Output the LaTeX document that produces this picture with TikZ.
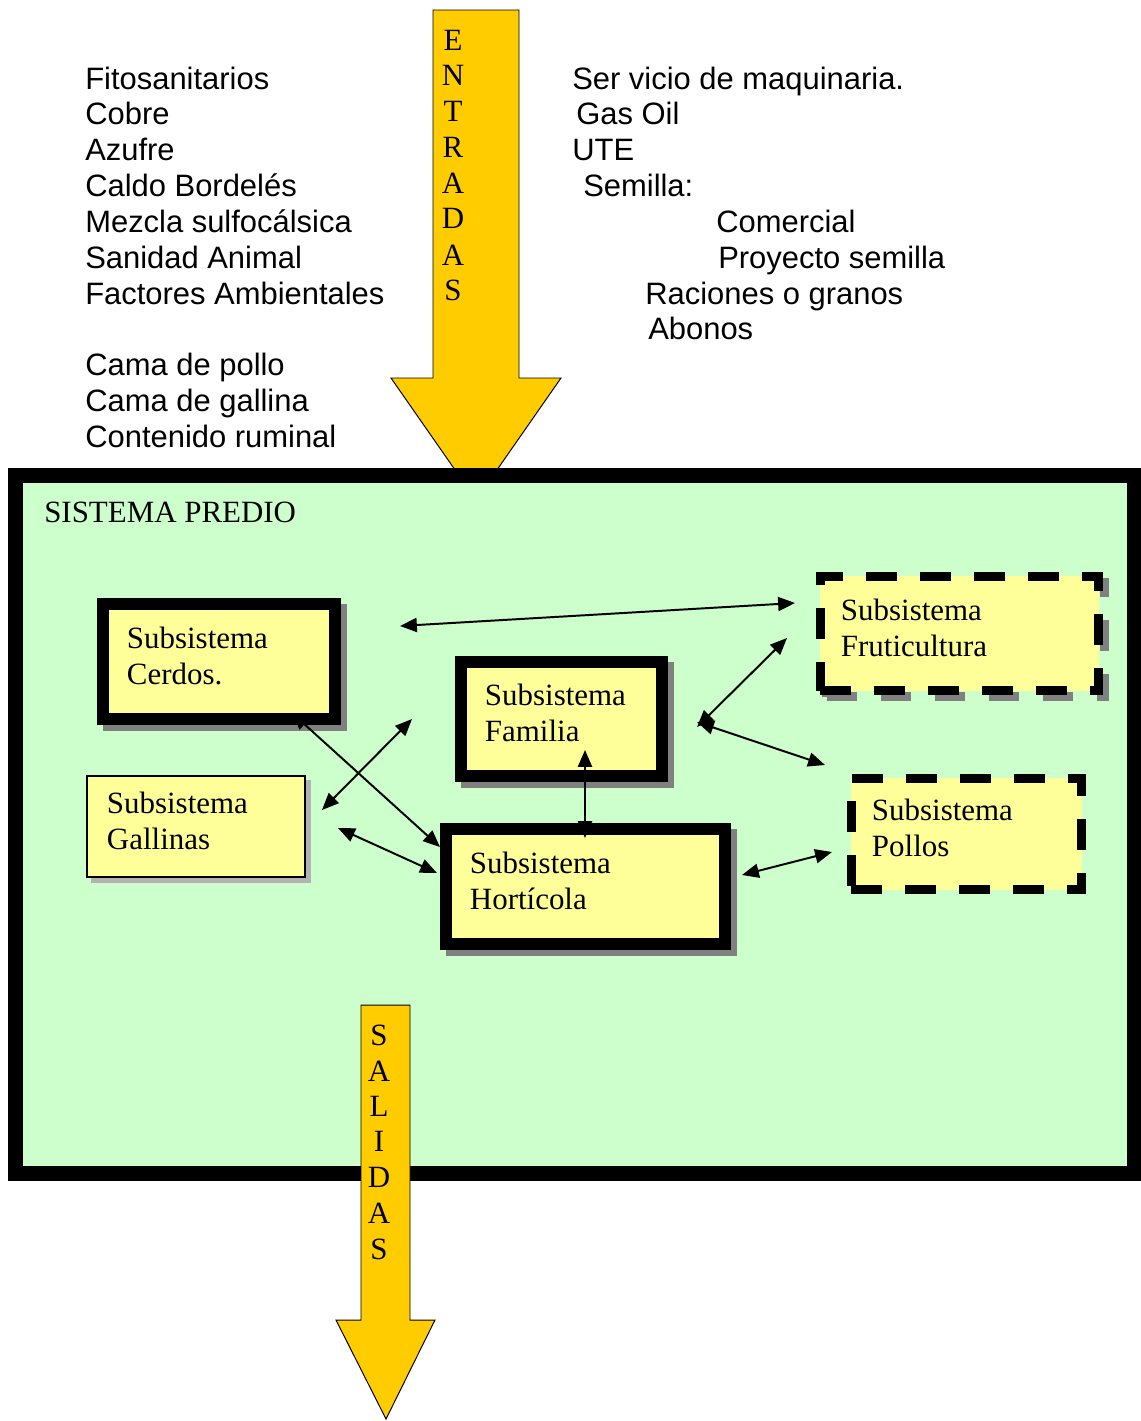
\documentclass[tikz,border=0pt]{standalone}
\usepackage{fontspec}
\setmainfont{Liberation Serif}
\setsansfont{Liberation Sans}
\usetikzlibrary{positioning,calc,arrows.meta}
\definecolor{verde}{HTML}{CCFFCC}
\definecolor{amarillo}{HTML}{FFFF99}
\definecolor{naranja}{HTML}{FFCC00}
\tikzset{grande/.style={font=\fontsize{22}{25.6}\selectfont},
  sub/.style={draw,fill=amarillo,grande,align=left,text depth=34pt},
  grueso/.style={line width=8.5pt,preaction={draw=black!50,fill=black!50,transform canvas={shift={(4.3pt,-4.3pt)}}}},
  rayado/.style={line width=6.4pt,dash pattern=on 22pt off 16.4pt},
  flecha/.style={draw,line width=0.7pt,fill=naranja},
  link/.style={line width=1.4pt,{Triangle[length=12pt,width=10pt]}-{Triangle[length=12pt,width=10pt]}},
  lista/.style={font=\sffamily\fontsize{22}{25.6}\selectfont,anchor=base west,inner sep=0pt},
  letra/.style={grande,anchor=base,inner sep=0pt}}
\begin{document}
\begin{tikzpicture}[x=0.025cm,y=-0.025cm]
  \useasboundingbox (0,0) rectangle (1141,1421);

  % entradas arrow (behind the system box)
  \draw[flecha] (433,10) -- (519,10) -- (519,378) -- (561,378) -- (476,500) -- (391,378) -- (433,378) -- cycle;
  \foreach \l/\y [count=\i] in {E/50,N/85,T/121,R/157,A/193,D/228,A/265,S/300}
    \node[letra] (ent-\i) at (453,\y) {\l};

  % inputs
  \foreach \t/\y [count=\i] in {Fitosanitarios/89, Cobre/124, Azufre/160, Caldo Bordelés/196, Mezcla sulfocálsica/232, Sanidad Animal/268, Factores Ambientales/304, Cama de pollo/375, Cama de gallina/411, Contenido ruminal/447}
    \node[lista] (izq-\i) at (85,\y) {\t};
  \foreach \x/\y/\t [count=\i] in {572/89/Ser vicio de maquinaria., 576/124/Gas Oil, 572/160/UTE, 583/196/Semilla:, 716/232/Comercial, 718/268/Proyecto semilla, 645/304/Raciones o granos, 648/339/Abonos}
    \node[lista] (der-\i) at (\x,\y) {\t};

  % system box
  \node (predio) [draw,line width=10.7pt,fill=verde,minimum width=27.9625cm,minimum height=17.4375cm,inner sep=0pt] at (575.25,824.25) {};
  \node (titulo) [grande,anchor=base west,inner sep=0pt] at (44,522) {SISTEMA PREDIO};

  % subsystems
  \node (cerdos) [sub,grueso,minimum height=2.875cm,inner xsep=0.6cm,text width=4.6cm] at (219,661.5) {Subsistema\\Cerdos.};
  \node (familia) [sub,grueso,minimum height=2.85cm,inner xsep=0.6cm,text width=3.825cm] at (561.5,719) {Subsistema\\Familia};
  \node (horticola) [sub,grueso,minimum height=2.875cm,inner xsep=0.6cm,text width=5.775cm] at (585.5,886.5) {Subsistema\\Hortícola};
  \node (gallinas) [sub,line width=1.4pt,preaction={draw=black!30,fill=black!30,transform canvas={shift={(3.5pt,-3.5pt)}}},minimum height=2.525cm,inner xsep=0.5cm,text width=4.45cm] at (196,826.5) {Subsistema\\Gallinas};
  \node (fruti) [sub,rayado,preaction={draw=black!50,fill=none,transform canvas={shift={(4.3pt,-4.3pt)}}},minimum height=2.85cm,inner xsep=0.5125cm,text width=5.925cm] at (959.5,633.5) {Subsistema\\Fruticultura};
  \node (pollos) [sub,rayado,minimum height=2.775cm,inner xsep=0.5125cm,text width=4.725cm] at (966.5,834) {Subsistema\\Pollos};

  % connector ends
  \coordinate (cer-fru-a) at (400,626); \coordinate (cer-fru-b) at (795,603);
  \coordinate (cer-hor-a) at (292,713); \coordinate (cer-hor-b) at (440,847);
  \coordinate (gal-fam-a) at (322,810); \coordinate (gal-fam-b) at (412,719);
  \coordinate (gal-hor-a) at (338,828); \coordinate (gal-hor-b) at (437,873);
  \coordinate (fam-hor-a) at (585,750); \coordinate (fam-hor-b) at (585,838);
  \coordinate (fam-fru-a) at (697,727); \coordinate (fam-fru-b) at (787,638);
  \coordinate (fam-pol-a) at (697,722); \coordinate (fam-pol-b) at (825,765);
  \coordinate (hor-pol-a) at (742,875); \coordinate (hor-pol-b) at (832,852);

  % connectors
  \foreach \a in {cer-fru,cer-hor,gal-fam,gal-hor,fam-hor,fam-fru,fam-pol,hor-pol}
    \draw[link] (\a-a) -- (\a-b);

  % salidas arrow
  \draw[flecha] (361,1005) -- (410,1005) -- (410,1320) -- (435,1320) -- (386,1419) -- (336,1320) -- (361,1320) -- cycle;
  \foreach \l/\y [count=\i] in {S/1045,A/1081,L/1116,I/1151,D/1187,A/1223,S/1259}
    \node[letra] (sal-\i) at (379,\y) {\l};
\end{tikzpicture}
\end{document}
